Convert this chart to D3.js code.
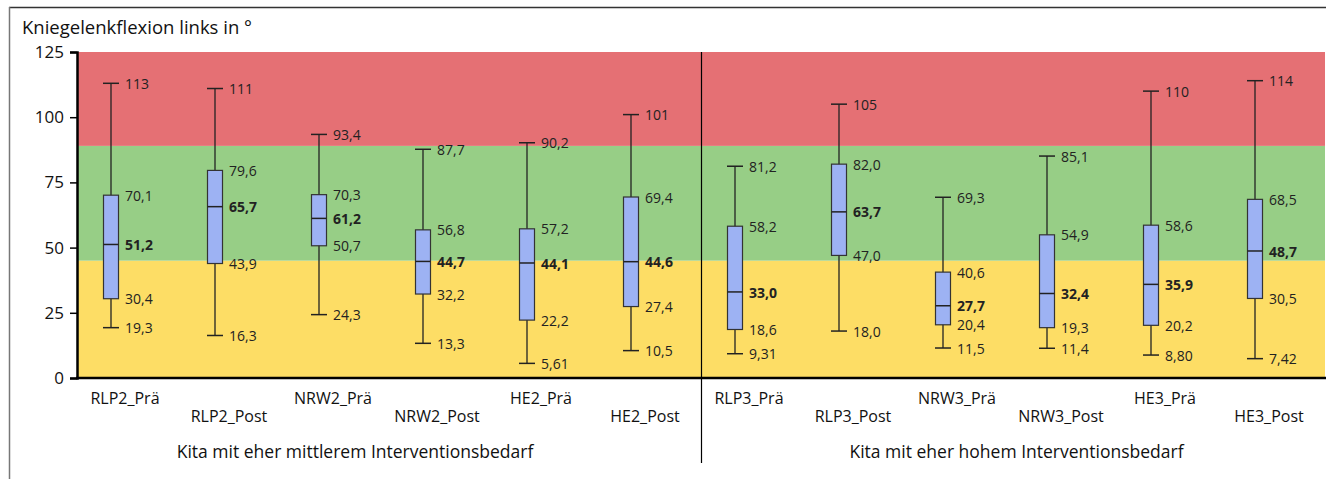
<!DOCTYPE html>
<meta charset="utf-8">
<style>
body { margin: 0; background: #fff; }
svg { font-family: "Open Sans", sans-serif; }
</style>
<body>
<script src="https://d3js.org/d3.v7.min.js"></script>
<script>

// categories and five-number summaries
var categories = ["RLP2_Prä", "RLP2_Post", "NRW2_Prä", "NRW2_Post", "HE2_Prä", "HE2_Post",
                  "RLP3_Prä", "RLP3_Post", "NRW3_Prä", "NRW3_Post", "HE3_Prä", "HE3_Post"];
var mins    = [19.3, 16.3, 24.3, 13.3, 5.61, 10.5, 9.31, 18.0, 11.5, 11.4, 8.80, 7.42];
var q1s     = [30.4, 43.9, 50.7, 32.2, 22.2, 27.4, 18.6, 47.0, 20.4, 19.3, 20.2, 30.5];
var medians = [51.2, 65.7, 61.2, 44.7, 44.1, 44.6, 33.0, 63.7, 27.7, 32.4, 35.9, 48.7];
var q3s     = [70.1, 79.6, 70.3, 56.8, 57.2, 69.4, 58.2, 82.0, 40.6, 54.9, 58.6, 68.5];
var maxs    = [113, 111, 93.4, 87.7, 90.2, 101, 81.2, 105, 69.3, 85.1, 110, 114];

var groups = ["Kita mit eher mittlerem Interventionsbedarf", "Kita mit eher hohem Interventionsbedarf"];
var yTicks = [0, 25, 50, 75, 100, 125];
// background zones: [from, to, colour]
var zoneLimits = [0, 45, 89, 125];
var zoneColors = ["#fddd65", "#97ce86", "#e57074"];
var yTitle = "Kniegelenkflexion links in °";

var W = 1326, H = 479;
var margin = {top: 52, right: 1, bottom: 101, left: 77};

var svg = d3.select("body").append("svg")
    .attr("width", W)
    .attr("height", H);

var x = d3.scaleBand()
    .domain(categories)
    .range([margin.left, W - margin.right]);

var y = d3.scaleLinear()
    .domain([0, 125])
    .range([H - margin.bottom, margin.top]);

var fmt = function(v) { return d3.format(".3r")(v).replace(".", ","); };

// outer frame (top + left)
svg.append("line").attr("x1", 9).attr("x2", W).attr("y1", 7.5).attr("y2", 7.5)
    .attr("stroke", "#333").attr("stroke-width", 1.5);
svg.append("line").attr("x1", 9.5).attr("x2", 9.5).attr("y1", 7).attr("y2", H)
    .attr("stroke", "#777").attr("stroke-width", 1.5);

// zones
svg.selectAll("rect.zone")
    .data(zoneColors)
  .enter().append("rect")
    .attr("class", "zone")
    .attr("x", margin.left)
    .attr("width", W - margin.right - margin.left)
    .attr("y", function(d, i) { return y(zoneLimits[i + 1]); })
    .attr("height", function(d, i) { return y(zoneLimits[i]) - y(zoneLimits[i + 1]); })
    .attr("fill", function(d) { return d; });

// y axis
var yAxis = svg.append("g")
    .attr("transform", "translate(" + margin.left + ",0)")
    .call(d3.axisLeft(y).tickValues(yTicks).tickSize(7).tickPadding(6));
yAxis.select(".domain").attr("stroke", "#000").attr("stroke-width", 2.5);
yAxis.selectAll(".tick line").attr("stroke", "#000").attr("stroke-width", 1.5);
yAxis.selectAll("text").attr("font-size", 17).attr("fill", "#111")
    .attr("font-family", "Open Sans, sans-serif");

// x baseline
svg.append("line")
    .attr("x1", margin.left - 1).attr("x2", W)
    .attr("y1", y(0)).attr("y2", y(0))
    .attr("stroke", "#000").attr("stroke-width", 2.5);

svg.append("text")
    .attr("x", 22).attr("y", 34)
    .attr("font-size", 18.5).attr("fill", "#111")
    .text(yTitle);

// group divider
var split = x(categories[6]);
svg.append("line")
    .attr("x1", split + 0.5).attr("x2", split + 0.5)
    .attr("y1", margin.top).attr("y2", 463)
    .attr("stroke", "#000").attr("stroke-width", 1.2);

// boxes
var boxW = 15, capW = 16;
var cx = function(i) { return x(categories[i]) + x.bandwidth() / 2 - 18; };

var box = svg.selectAll("g.box")
    .data(categories)
  .enter().append("g")
    .attr("class", "box");

box.append("line")
    .attr("x1", function(d, i) { return cx(i); })
    .attr("x2", function(d, i) { return cx(i); })
    .attr("y1", function(d, i) { return y(maxs[i]); })
    .attr("y2", function(d, i) { return y(mins[i]); })
    .attr("stroke", "#222").attr("stroke-width", 1.3);

[mins, maxs].forEach(function(arr) {
  box.append("line")
      .attr("x1", function(d, i) { return cx(i) - capW / 2; })
      .attr("x2", function(d, i) { return cx(i) + capW / 2; })
      .attr("y1", function(d, i) { return y(arr[i]); })
      .attr("y2", function(d, i) { return y(arr[i]); })
      .attr("stroke", "#222").attr("stroke-width", 1.5);
});

box.append("rect")
    .attr("x", function(d, i) { return cx(i) - boxW / 2; })
    .attr("width", boxW)
    .attr("y", function(d, i) { return y(q3s[i]); })
    .attr("height", function(d, i) { return y(q1s[i]) - y(q3s[i]); })
    .attr("fill", "#9db2f3")
    .attr("stroke", "#333").attr("stroke-width", 1.2);

box.append("line")
    .attr("x1", function(d, i) { return cx(i) - boxW / 2; })
    .attr("x2", function(d, i) { return cx(i) + boxW / 2; })
    .attr("y1", function(d, i) { return y(medians[i]); })
    .attr("y2", function(d, i) { return y(medians[i]); })
    .attr("stroke", "#222").attr("stroke-width", 1.5);

// value labels
[mins, q1s, medians, q3s, maxs].forEach(function(arr, k) {
  box.append("text")
      .attr("x", function(d, i) { return cx(i) + 14; })
      .attr("y", function(d, i) { return y(arr[i]); })
      .attr("dy", "0.4em")
      .attr("font-size", 14)
      .attr("font-weight", k === 2 ? "bold" : "normal")
      .attr("fill", "#222")
      .text(function(d, i) { return fmt(arr[i]); });
});

// category labels, alternating rows
svg.selectAll("text.cat")
    .data(categories)
  .enter().append("text")
    .attr("class", "cat")
    .attr("x", function(d) { return x(d) + x.bandwidth() / 2 - 4; })
    .attr("y", function(d, i) { return i % 2 ? 422 : 404; })
    .attr("text-anchor", "middle")
    .attr("font-size", 16).attr("fill", "#111")
    .text(function(d) { return d; });

// group labels
svg.selectAll("text.grp")
    .data(groups)
  .enter().append("text")
    .attr("class", "grp")
    .attr("x", function(d, i) { return i ? (split + W) / 2 + 3 : (9 + split) / 2; })
    .attr("y", 458)
    .attr("text-anchor", "middle")
    .attr("font-size", 17.5).attr("fill", "#111")
    .text(function(d) { return d; });

</script>
